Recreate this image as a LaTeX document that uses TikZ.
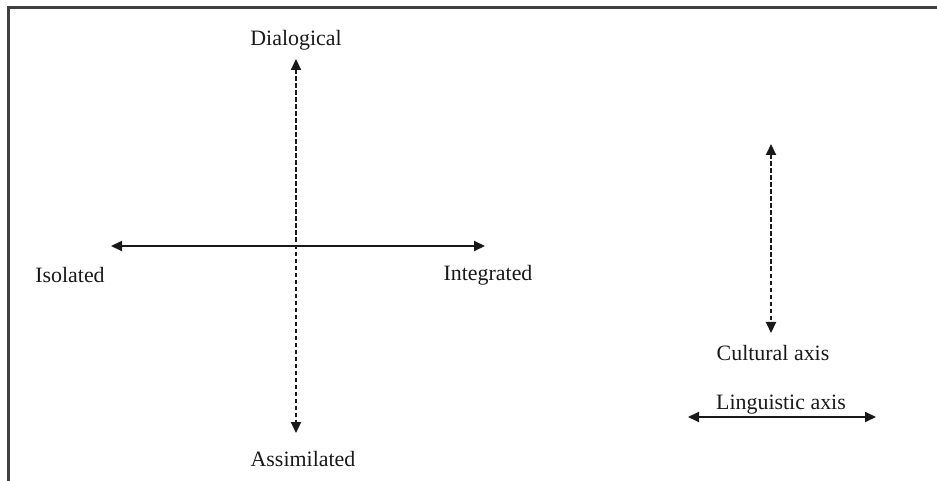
\documentclass[tikz,border=0pt]{standalone}
\usepackage{fontspec}
\setmainfont{Liberation Serif}
\usetikzlibrary{arrows.meta}
\tikzset{
  lbl/.style={font=\fontsize{22}{26}\selectfont, inner sep=0pt, text=black!90},
  axis/.style={line width=2bp, black!90, {Triangle[length=11bp,width=10bp]}-{Triangle[length=11bp,width=10bp]}},
  dashaxis/.style={axis, dash pattern=on 4.5bp off 2.5bp},
  frame/.style={line width=3bp, black!75}
}
\begin{document}
\begin{tikzpicture}[x=1bp,y=-1bp]
\useasboundingbox (0,0) rectangle (937,481);
\draw[frame] (8,481) -- (8,8) -- (937,8);
% main cross
\coordinate (vtop) at (296,59);
\coordinate (vbot) at (296,433);
\coordinate (hl) at (111,246);
\coordinate (hr) at (485,246);
\draw[dashaxis] (vtop) -- (vbot);
\draw[axis] (hl) -- (hr);
\node[lbl] (dia) at (296,40) {Dialogical};
\node[lbl] (ass) at (303,459) {Assimilated};
\node[lbl] (iso) at (70,275) {Isolated};
\node[lbl] (int) at (488,275) {Integrated};
% legend
\coordinate (ctop) at (771,144);
\coordinate (cbot) at (771,333);
\draw[dashaxis] (ctop) -- (cbot);
\node[lbl] (cul) at (773,353) {Cultural axis};
\coordinate (ll) at (688,417);
\coordinate (lr) at (876,417);
\draw[axis] (ll) -- (lr);
\node[lbl] (lin) at (781,405) {Linguistic axis};
\end{tikzpicture}
\end{document}
